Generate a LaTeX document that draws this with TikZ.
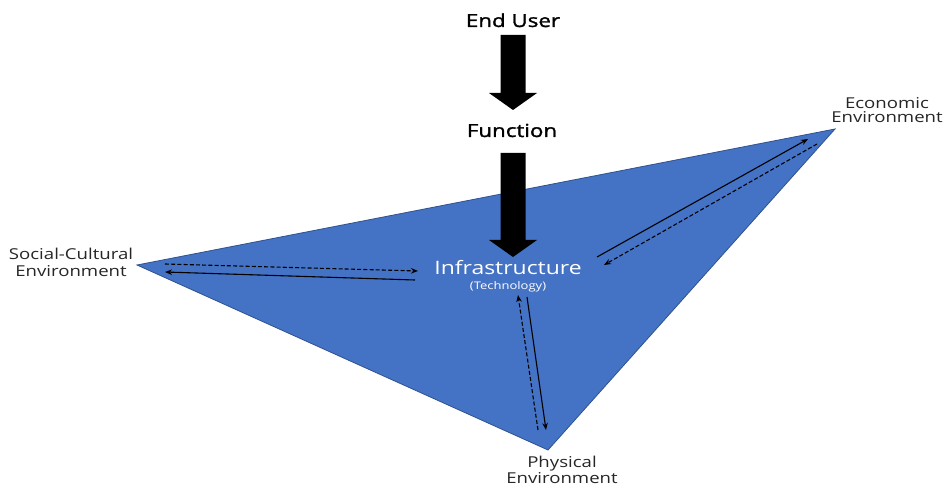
\documentclass[tikz,border=0pt]{standalone}
\usepackage{fontspec}
\setmainfont{Open Sans}
\newfontfamily\widefont{Open Sans}[FakeStretch=1.24]
\newfontfamily\widebold{Open Sans}[FakeStretch=1.24, FakeBold=1.6]
\usetikzlibrary{arrows.meta}
\definecolor{triblue}{HTML}{4472C4}
\definecolor{triedge}{HTML}{2F528F}
\begin{document}
\begin{tikzpicture}[x=1pt,y=-1pt,
  label/.style={inner sep=0pt, align=center, text=black!85},
  head/.style={inner sep=0pt, anchor=base, font=\fontsize{18}{20}\widebold},
  link/.style={line width=1.1pt, -{Stealth[length=7pt,width=5.5pt]}},
  dlink/.style={link, dash pattern=on 4pt off 2.2pt}]
\useasboundingbox (0,0) rectangle (944,486);
\fill[white] (0,0) rectangle (944,486);

% corners of the environment triangle
\coordinate (sc) at (137,265);
\coordinate (ec) at (835,129);
\coordinate (pe) at (548,450);
\filldraw[fill=triblue, draw=triedge, line width=0.8pt] (sc) -- (ec) -- (pe) -- cycle;

% block arrows down the middle
\fill[black] (500.5,35) -- (525.5,35) -- (525.5,93) -- (537,93) -- (513,110) -- (489,93) -- (500.5,93) -- cycle;
\fill[black] (500.5,153) -- (525.5,153) -- (525.5,240) -- (537,240) -- (513,257) -- (489,240) -- (500.5,240) -- cycle;

% texts
\node[head] (user) at (513,27) {End User};
\node[head] (fn) at (512,137) {Function};
\node[inner sep=0pt, anchor=base, text=white, font=\fontsize{18.5}{20}\widefont] (infra) at (508,274) {Infrastructure};
\node[inner sep=0pt, anchor=base, text=white, font=\fontsize{10.5}{12}\widefont] (tech) at (508,289) {(Technology)};
\node[label, font=\fontsize{15}{17}\widefont] (social) at (71,262) {Social-Cultural\\Environment};
\node[label, font=\fontsize{15}{14.5}\widefont] (econ) at (887,110) {Economic\\Environment};
\node[label, font=\fontsize{15}{15.5}\widefont] (phys) at (562,470) {Physical\\Environment};

% end points of the exchange arrows
\coordinate (s1a) at (165,264);  \coordinate (s1b) at (418,271);
\coordinate (s2a) at (415,280);  \coordinate (s2b) at (165,272);
\coordinate (e1a) at (597,257);  \coordinate (e1b) at (808,139);
\coordinate (e2a) at (817,144);  \coordinate (e2b) at (604,265);
\coordinate (p1a) at (538,430);  \coordinate (p1b) at (518,295);
\coordinate (p2a) at (527,297);  \coordinate (p2b) at (546,430);

\draw[dlink] (s1a) -- (s1b);
\draw[link]  (s2a) -- (s2b);
\draw[link]  (e1a) -- (e1b);
\draw[dlink] (e2a) -- (e2b);
\draw[dlink] (p1a) -- (p1b);
\draw[link]  (p2a) -- (p2b);
\end{tikzpicture}
\end{document}
